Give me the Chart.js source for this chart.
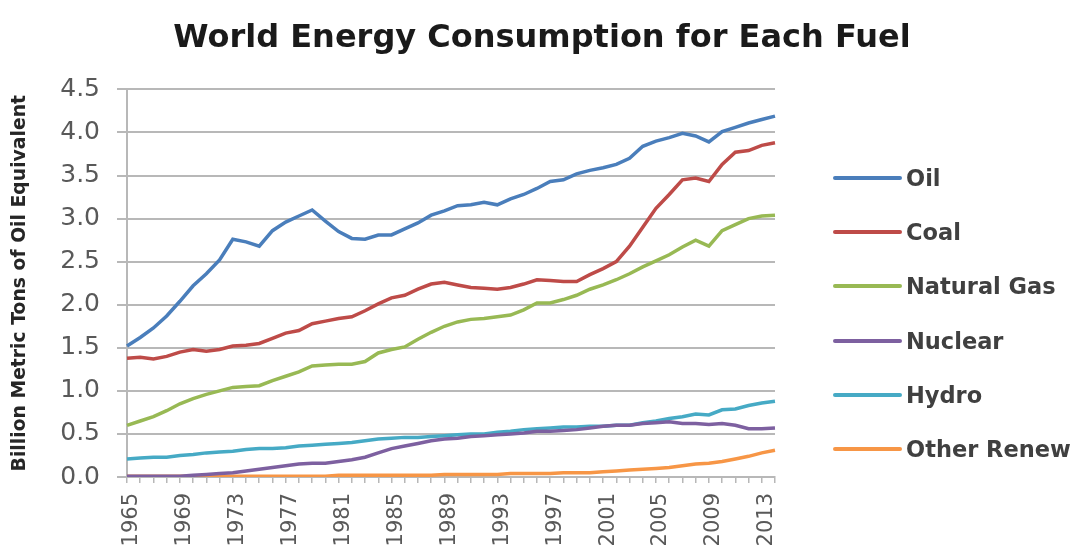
<!DOCTYPE html>
<html>
<head>
<meta charset="utf-8">
<title>World Energy Consumption for Each Fuel</title>
<script src="https://cdn.jsdelivr.net/npm/chart.js@4.4.1/dist/chart.umd.min.js"></script>
<style>
  html, body { margin: 0; padding: 0; background: #fff; }
  #wrap { position: relative; width: 1084px; height: 548px; }
  #legend { position: absolute; left: 833px; top: 151px; font-family: 'DejaVu Sans', sans-serif; }
  .row { height: 54.2px; display: flex; align-items: center; }
  .swatch { display: inline-block; width: 69px; height: 4px; border-radius: 2px; }
  .txt { margin-left: 4px; font-size: 22.5px; font-weight: bold; color: #404040; white-space: nowrap; }
</style>
</head>
<body>
<div id="wrap">
  <canvas id="energyChart" width="1084" height="548"></canvas>
  <div id="legend"></div>
</div>
<script>
// years on the category axis, 1965 - 2014
const years = ['1965','1966','1967','1968','1969','1970','1971','1972','1973','1974',
  '1975','1976','1977','1978','1979','1980','1981','1982','1983','1984',
  '1985','1986','1987','1988','1989','1990','1991','1992','1993','1994',
  '1995','1996','1997','1998','1999','2000','2001','2002','2003','2004',
  '2005','2006','2007','2008','2009','2010','2011','2012','2013','2014'];

// billion metric tons of oil equivalent
const oil = [1.52,1.62,1.73,1.87,2.04,2.22,2.36,2.52,2.76,2.73,
  2.68,2.86,2.96,3.03,3.10,2.97,2.85,2.77,2.76,2.81,
  2.81,2.88,2.95,3.04,3.09,3.15,3.16,3.19,3.16,3.23,
  3.28,3.35,3.43,3.45,3.52,3.56,3.59,3.63,3.70,3.84,
  3.90,3.94,3.99,3.96,3.89,4.01,4.06,4.11,4.15,4.19];
const coal = [1.38,1.39,1.37,1.40,1.45,1.48,1.46,1.48,1.52,1.53,
  1.55,1.61,1.67,1.70,1.78,1.81,1.84,1.86,1.93,2.01,
  2.08,2.11,2.18,2.24,2.26,2.23,2.20,2.19,2.18,2.20,
  2.24,2.29,2.28,2.27,2.27,2.35,2.42,2.50,2.68,2.90,
  3.12,3.28,3.45,3.47,3.43,3.63,3.77,3.79,3.85,3.88];
const naturalGas = [0.60,0.65,0.70,0.77,0.85,0.91,0.96,1.00,1.04,1.05,
  1.06,1.12,1.17,1.22,1.29,1.30,1.31,1.31,1.34,1.44,
  1.48,1.51,1.60,1.68,1.75,1.80,1.83,1.84,1.86,1.88,
  1.94,2.02,2.02,2.06,2.11,2.18,2.23,2.29,2.36,2.44,
  2.51,2.58,2.67,2.75,2.68,2.86,2.93,3.00,3.03,3.04];
const nuclear = [0.01,0.01,0.01,0.01,0.01,0.02,0.03,0.04,0.05,0.07,
  0.09,0.11,0.13,0.15,0.16,0.16,0.18,0.20,0.23,0.28,
  0.33,0.36,0.39,0.42,0.44,0.45,0.47,0.48,0.49,0.50,
  0.51,0.53,0.53,0.54,0.55,0.57,0.59,0.60,0.60,0.62,
  0.63,0.64,0.62,0.62,0.61,0.62,0.60,0.56,0.56,0.57];
const hydro = [0.21,0.22,0.23,0.23,0.25,0.26,0.28,0.29,0.30,0.32,
  0.33,0.33,0.34,0.36,0.37,0.38,0.39,0.40,0.42,0.44,
  0.45,0.46,0.46,0.47,0.48,0.49,0.50,0.50,0.52,0.53,
  0.55,0.56,0.57,0.58,0.58,0.59,0.59,0.60,0.60,0.63,
  0.65,0.68,0.70,0.73,0.72,0.78,0.79,0.83,0.86,0.88];
const otherRenew = [0.01,0.01,0.01,0.01,0.01,0.01,0.01,0.01,0.01,0.01,
  0.01,0.01,0.01,0.01,0.01,0.01,0.02,0.02,0.02,0.02,
  0.02,0.02,0.02,0.02,0.03,0.03,0.03,0.03,0.03,0.04,
  0.04,0.04,0.04,0.05,0.05,0.05,0.06,0.07,0.08,0.09,
  0.10,0.11,0.13,0.15,0.16,0.18,0.21,0.24,0.28,0.31];

const seriesNames = ['Oil', 'Coal', 'Natural Gas', 'Nuclear', 'Hydro', 'Other Renew'];
const seriesColors = ['#4a7ebb', '#be4b48', '#98b954', '#7d60a0', '#46aac5', '#f79646'];
const seriesValues = [oil, coal, naturalGas, nuclear, hydro, otherRenew];

const yTicks = [0, 0.5, 1.0, 1.5, 2.0, 2.5, 3.0, 3.5, 4.0, 4.5];

Chart.defaults.font.family = "'DejaVu Sans', sans-serif";
Chart.defaults.color = '#595959';

const datasets = seriesNames.map((name, i) => ({
  label: name,
  data: seriesValues[i],
  yAxisID: 'y',
  borderColor: seriesColors[i],
  backgroundColor: seriesColors[i],
  borderWidth: 3.5,
  pointRadius: 0,
  tension: 0,
  fill: false
}));

const gridGray = '#b8b8b8';

const chart = new Chart(document.getElementById('energyChart'), {
  type: 'line',
  data: { labels: years, datasets: datasets },
  options: {
    responsive: false,
    animation: false,
    devicePixelRatio: 1,
    layout: { padding: 0 },
    plugins: {
      legend: { display: false },
      tooltip: { enabled: false },
      title: {
        display: true,
        text: 'World Energy Consumption for Each Fuel',
        color: '#1a1a1a',
        font: { size: 32, weight: 'bold' },
        padding: { top: 19, bottom: 32 }
      }
    },
    scales: {
      x: {
        type: 'category',
        offset: false,
        grid: { drawOnChartArea: false, drawTicks: true, tickLength: 6, color: gridGray, lineWidth: 1.5 },
        border: { display: true, color: gridGray, width: 2 },
        ticks: {
          autoSkip: false,
          maxRotation: 90,
          minRotation: 90,
          padding: 10,
          labelOffset: 5,
          font: { size: 21 },
          callback: function (val, i) { return i % 4 === 0 ? years[i] : ''; }
        },
        afterFit: (scale) => { scale.height = 71; }
      },
      y: {
        min: 0,
        max: 4.5,
        grid: { color: gridGray, lineWidth: 2, tickLength: 10, drawTicks: true },
        border: { display: true, color: gridGray, width: 2 },
        afterBuildTicks: (scale) => { scale.ticks = yTicks.map(v => ({ value: v })); },
        ticks: {
          padding: 17,
          font: { size: 25 },
          callback: (v) => Number(v).toFixed(1)
        },
        title: {
          display: true,
          text: 'Billion Metric Tons of Oil Equivalent',
          color: '#262626',
          font: { size: 18.8, weight: 'bold' },
          padding: { top: 9, bottom: 0 }
        },
        afterFit: (scale) => { scale.width = 127; }
      },
      // empty right-hand box that keeps room for the legend
      legendSpace: {
        position: 'right',
        min: 0,
        max: 4.5,
        grid: { display: false },
        border: { display: false },
        ticks: { display: false },
        afterFit: (scale) => { scale.width = 309; }
      }
    }
  }
});

// legend built from the chart's own datasets
const legendEl = document.getElementById('legend');
chart.data.datasets.forEach((ds) => {
  const row = document.createElement('div');
  row.className = 'row';
  row.innerHTML = '<span class="swatch" style="background:' + ds.borderColor + '"></span><span class="txt">' + ds.label + '</span>';
  legendEl.appendChild(row);
});
</script>
</body>
</html>
